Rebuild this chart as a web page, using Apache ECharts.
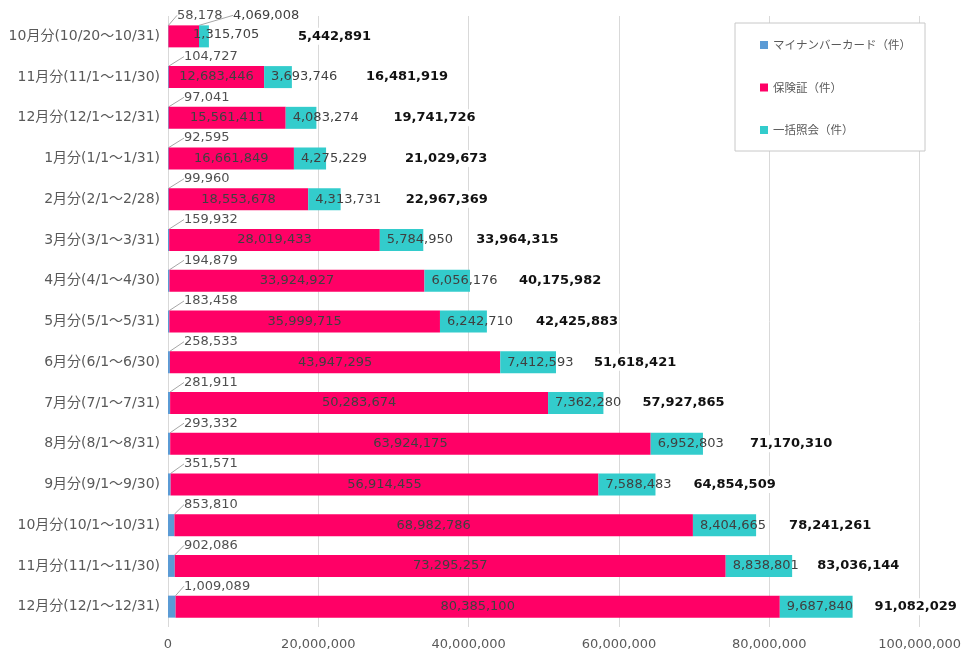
<!DOCTYPE html>
<html>
<head>
<meta charset="utf-8">
<script src="https://cdn.jsdelivr.net/npm/echarts@6/dist/echarts.min.js"></script>
<style>
html,body{margin:0;padding:0;background:#fff;}
#c{width:964px;height:652px;}
</style>
</head>
<body>
<div id="c"></div>
<script>
const categories = [
  '10月分(10/20～10/31)','11月分(11/1～11/30)','12月分(12/1～12/31)','1月分(1/1～1/31)',
  '2月分(2/1～2/28)','3月分(3/1～3/31)','4月分(4/1～4/30)','5月分(5/1～5/31)',
  '6月分(6/1～6/30)','7月分(7/1～7/31)','8月分(8/1～8/31)','9月分(9/1～9/30)',
  '10月分(10/1～10/31)','11月分(11/1～11/30)','12月分(12/1～12/31)'
];
const seriesNames = ['マイナンバーカード（件）','保険証（件）','一括照会（件）'];
const myNumberCard = [58178,104727,97041,92595,99960,159932,194879,183458,258533,281911,293332,351571,853810,902086,1009089];
const insuranceCard = [4069008,12683446,15561411,16661849,18553678,28019433,33924927,35999715,43947295,50283674,63924175,56914455,68982786,73295257,80385100];
const bulkInquiry = [1315705,3693746,4083274,4275229,4313731,5784950,6056176,6242710,7412593,7362280,6952803,7588483,8404665,8838801,9687840];
const totals = [5442891,16481919,19741726,21029673,22967369,33964315,40175982,42425883,51618421,57927865,71170310,64854509,78241261,83036144,91082029];
const xTicks = {min: 0, max: 100000000, interval: 20000000};

// label styling (gap between bar end and total label text)
const totalLabelGap = [88,73,76,78,64,52,48,48,37,38,46,37,32,24,21];

const fmt = v => Number(v).toLocaleString('en-US');
const numFont = "'DejaVu Sans', 'Noto Sans CJK JP', sans-serif";
const cjkFont = "'Noto Sans CJK JP', 'DejaVu Sans', sans-serif";
const colors = ['#5B9BD5', '#FF0066', '#33CCCC'];
const BW = 22;

const chart = echarts.init(document.getElementById('c'), null, {renderer: 'canvas'});

const lineStyle = {color: '#a6a6a6', width: 1};

const option = {
  animation: false,
  grid: {left: 168, right: 39.5, top: 16, bottom: 25, containLabel: false},
  legend: {
    data: seriesNames,
    orient: 'vertical',
    right: 39,
    top: 23,
    backgroundColor: '#fff',
    borderColor: '#c8c8c8',
    borderWidth: 1,
    padding: [15, 14, 14, 25],
    itemGap: 28.5,
    itemWidth: 8,
    itemHeight: 8,
    itemTextGap: 3,
    icon: 'rect',
    textStyle: {fontFamily: cjkFont, fontSize: 11.5, color: '#595959', lineHeight: 14}
  },
  xAxis: {
    type: 'value',
    min: xTicks.min, max: xTicks.max, interval: xTicks.interval,
    axisLine: {show: false},
    axisTick: {show: false},
    splitLine: {show: true, lineStyle: {color: '#d9d9d9', width: 1}},
    axisLabel: {formatter: v => fmt(v), fontFamily: numFont, fontSize: 13, color: '#595959', margin: 11}
  },
  yAxis: {
    type: 'category',
    inverse: true,
    data: categories,
    axisLine: {show: false},
    axisTick: {show: false},
    splitLine: {show: false},
    axisLabel: {fontFamily: numFont, fontSize: 14, color: '#595959', margin: 8}
  },
  series: [
    {
      name: seriesNames[0], type: 'bar', stack: 'a', barWidth: BW,
      data: myNumberCard,
      itemStyle: {color: colors[0]},
      label: {show: true, position: 'inside', formatter: p => fmt(p.value), fontFamily: numFont, fontSize: 13, color: '#505050'},
      labelLine: {show: true, lineStyle: lineStyle},
      labelLayout: function (p) {
        const cy = p.rect.y + p.rect.height / 2;
        if (p.dataIndex === 0) return {x: p.rect.x + 9, y: cy - 21, align: 'left', verticalAlign: 'middle'};
        return {x: p.rect.x + 16, y: cy - 20.5, align: 'left', verticalAlign: 'middle'};
      }
    },
    {
      name: seriesNames[1], type: 'bar', stack: 'a', barWidth: BW,
      data: insuranceCard.map((v, i) => i === 0 ? {value: v, labelLine: {show: true, lineStyle: lineStyle}} : v),
      itemStyle: {color: colors[1]},
      label: {show: true, position: 'inside', formatter: p => fmt(p.value), fontFamily: numFont, fontSize: 13, color: '#404040'},
      labelLayout: function (p) {
        if (p.dataIndex !== 0) return {};
        const cy = p.rect.y + p.rect.height / 2;
        return {x: p.rect.x + p.rect.width + 34, y: cy - 21, align: 'left', verticalAlign: 'middle'};
      }
    },
    {
      name: seriesNames[2], type: 'bar', stack: 'a', barWidth: BW,
      data: bulkInquiry,
      itemStyle: {color: colors[2]},
      label: {show: true, position: 'insideLeft', distance: 7, formatter: p => fmt(p.value), fontFamily: numFont, fontSize: 13, color: '#404040'},
      labelLayout: function (p) {
        if (p.dataIndex !== 0) return {};
        const cy = p.rect.y + p.rect.height / 2;
        return {x: p.rect.x - 6, y: cy - 2, align: 'left', verticalAlign: 'middle'};
      }
    },
    {
      name: 'total', type: 'bar', barWidth: BW, barGap: '-100%',
      data: totals.map((v, i) => ({value: v, label: {distance: totalLabelGap[i]}})),
      itemStyle: {color: 'rgba(0,0,0,0)'},
      silent: true,
      label: {
        show: true, position: 'right', formatter: p => fmt(p.value),
        fontFamily: numFont, fontSize: 13, fontWeight: 'bold', color: '#111',
        backgroundColor: '#fff', padding: [2, 1]
      }
    }
  ]
};
chart.setOption(option);
</script>
</body>
</html>
